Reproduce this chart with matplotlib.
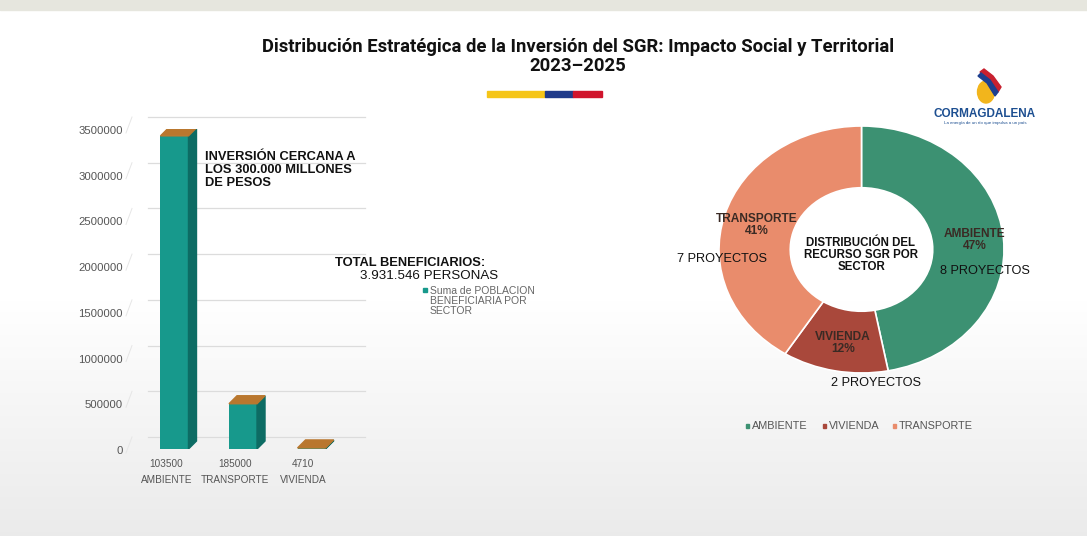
import numpy as np
import matplotlib
matplotlib.use('Agg')
import matplotlib.pyplot as plt
from matplotlib.patches import Polygon, Rectangle, Ellipse
from matplotlib.transforms import ScaledTranslation

# data
bar_cats = ['AMBIENTE', 'TRANSPORTE', 'VIVIENDA']
bar_codes = ['103500', '185000', '4710']
bar_vals = [3425000, 495000, 11546]
yticks = [0, 500000, 1000000, 1500000, 2000000, 2500000, 3000000, 3500000]

pie_cats = ['AMBIENTE', 'VIVIENDA', 'TRANSPORTE']
pie_pct = [47, 12, 41]
pie_proj = ['8 PROYECTOS', '2 PROYECTOS', '7 PROYECTOS']
pie_colors = ['#3c9172', '#a9483b', '#e98c6c']

W, H = 1087, 536
fig = plt.figure(figsize=(W / 100, H / 100), dpi=100)
plt.rcParams['font.family'] = ['Liberation Sans', 'DejaVu Sans']

def fx(x):
    return x / W

def fy(y):
    return 1 - y / H

# background
bg = fig.add_axes([0, 0, 1, 1], zorder=-5)
grad = np.ones((H, 1, 3))
t = np.clip((np.arange(H) - 300) / (H - 300), 0, 1)
grad[:, 0, :] = (1 - 0.08 * t)[:, None]
bg.imshow(grad, aspect='auto', extent=[0, W, H, 0])
bg.add_patch(Rectangle((0, 0), W, 10, color='#e6e6de'))
bg.set_xlim(0, W)
bg.set_ylim(H, 0)
bg.axis('off')

# title + flag stripe
fig.text(fx(578), fy(47), 'Distribución Estratégica de la Inversión del SGR: Impacto Social y Territorial',
         ha='center', va='center', fontsize=13.3, fontweight='bold', family='Roboto', color='#111111')
fig.text(fx(578), fy(66), '2023–2025', ha='center', va='center', fontsize=13.3,
         fontweight='bold', family='Roboto', color='#111111')
bg.add_patch(Rectangle((487, 91), 58, 6, color='#f5c518'))
bg.add_patch(Rectangle((545, 91), 28, 6, color='#1f3a8a'))
bg.add_patch(Rectangle((573, 91), 29, 6, color='#d0142c'))

# logo
bg.add_patch(Ellipse((986, 92), 17, 22, color='#f2b51c'))
bg.add_patch(Polygon([(980, 72), (989, 79), (998, 92), (1001, 87), (993, 76), (984, 69)], color='#c8202f'))
bg.add_patch(Polygon([(978, 76), (987, 83), (995, 96), (998, 92), (990, 80), (981, 73)], color='#1d3f8f'))
fig.text(fx(985), fy(114), 'CORMAGDALENA', ha='center', va='center', fontsize=8.5,
         fontweight='bold', color='#1d4f91')
fig.text(fx(985), fy(123), 'La energía de un río que impulsa a un país', ha='center', va='center',
         fontsize=3.2, color='#1d4f91')

# bar chart
x0, x1, ytop, ybot = 132, 365, 129, 449
ax = fig.add_axes([fx(x0), fy(ybot), fx(x1 - x0), (ybot - ytop) / H])
ax.set_xlim(-0.5, 2.9)
ax.set_ylim(0, 3500000)
ax.axis('off')
pxu = (x1 - x0) / 3.4
pyu = 3500000 / (ybot - ytop)
dx = 8 / pxu
dy = 8 * pyu
off = 0.12
bw = 28 / pxu

grid_tr = ax.transData + ScaledTranslation(16 / 100, 12 / 100, fig.dpi_scale_trans)
for v in yticks:
    ax.plot([-0.5, 2.9 - 16 / pxu], [v, v], color='#dcdcdc', lw=0.9, transform=grid_tr, clip_on=False, zorder=0)
    ax.plot([-0.5 - 6 / pxu, -0.5], [v - 0.5 * dy, v + 1.5 * dy], color='#e6e6e6', lw=0.7,
            clip_on=False, zorder=0)
    fig.text(fx(123), fy(ybot - v / pyu) - 2 / H, str(v), ha='right', va='center', fontsize=8.2, color='#555555')

for i, v in enumerate(bar_vals):
    xl = i + off - bw / 2
    xr = xl + bw
    ax.bar(xl, v, width=bw, align='edge', color='#17998c', zorder=2)
    ax.add_patch(Polygon([(xr, 0), (xr + dx, dy), (xr + dx, v + dy), (xr, v)], color='#0d6c64', zorder=2))
    ax.add_patch(Polygon([(xl, v), (xr, v), (xr + dx, v + dy), (xl + dx, v + dy)], color='#b9772e', zorder=3))
    fig.text(fx(x0 + (i + 0.5) * pxu), fy(464), bar_codes[i], ha='center', va='center', fontsize=7.2, color='#555555')
    fig.text(fx(x0 + (i + 0.5) * pxu), fy(480), bar_cats[i], ha='center', va='center', fontsize=7.2, color='#555555')

fig.text(fx(205), fy(170), 'INVERSIÓN CERCANA A\nLOS 300.000 MILLONES\nDE PESOS', ha='left', va='center',
         fontsize=9.3, fontweight='bold', color='#111111', linespacing=1.08)
fig.text(fx(335), fy(263), 'TOTAL BENEFICIARIOS:', ha='left', va='center', fontsize=9.3,
         fontweight='bold', color='#111111')
fig.text(fx(360), fy(276), '3.931.546 PERSONAS', ha='left', va='center', fontsize=9.6, color='#111111')
bg.add_patch(Rectangle((423, 288), 4, 4, color='#17998c'))
fig.text(fx(430), fy(301), 'Suma de POBLACION\nBENEFICIARIA POR\nSECTOR', ha='left', va='center',
         fontsize=7.5, color='#666666', linespacing=1.05)

# donut
pax = fig.add_axes([fx(719), fy(373), fx(1004 - 719), (373 - 126) / H])
wedges, _ = pax.pie(pie_pct, colors=pie_colors, startangle=90, counterclock=False,
                    wedgeprops=dict(width=0.5, edgecolor='white', linewidth=1.2))
pax.set_aspect('auto')
pax.set_xlim(-1, 1)
pax.set_ylim(-1, 1)

pie_lab_pos = [(975, 240), (843, 343), (757, 225)]
proj_pos = [(985, 271), (876, 383), (722, 259)]
for i in range(3):
    fig.text(fx(pie_lab_pos[i][0]), fy(pie_lab_pos[i][1]), f'{pie_cats[i]}\n{pie_pct[i]}%',
             ha='center', va='center', fontsize=8.6, fontweight='bold', color='#3a2a24', linespacing=1.1)
    fig.text(fx(proj_pos[i][0]), fy(proj_pos[i][1]), pie_proj[i], ha='center', va='center',
             fontsize=9.2, color='#111111')
fig.text(fx(861), fy(255), 'DISTRIBUCIÓN DEL\nRECURSO SGR POR\nSECTOR', ha='center', va='center',
         fontsize=8.3, fontweight='bold', color='#111111', linespacing=1.0)

# donut legend
leg_x = [752, 829, 899]
for i in range(3):
    bg.add_patch(Rectangle((leg_x[i] - 6.5, 424), 3.5, 3.5, color=pie_colors[i]))
    fig.text(fx(leg_x[i]), fy(426), pie_cats[i], ha='left', va='center', fontsize=7.8, color='#555555')

fig.savefig('out.png', dpi=100)
